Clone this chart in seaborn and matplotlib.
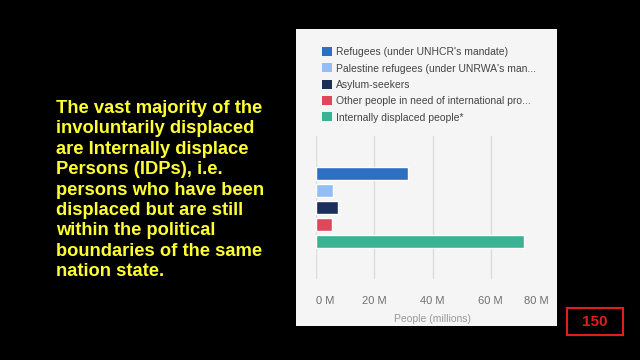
import matplotlib
matplotlib.use("Agg")
import matplotlib.pyplot as plt
import seaborn as sns
import pandas as pd
from matplotlib.patches import Rectangle, Patch

# data (millions of people)
categories = [
    "Refugees (under UNHCR's mandate)",
    "Palestine refugees (under UNRWA's man...",
    "Asylum-seekers",
    "Other people in need of international pro...",
    "Internally displaced people*",
]
people_m = [31.5, 5.7, 7.5, 5.5, 71.5]
colors = ["#2d6fc0", "#92bdf5", "#1b2e5c", "#e3455b", "#3ab394"]
x_ticks = [0, 20, 40, 60, 80]
x_tick_labels = ["0 M", "20 M", "40 M", "60 M", "80 M"]

caption = ("The vast majority of the\n"
           "involuntarily displaced\n"
           "are Internally displace\n"
           "Persons (IDPs), i.e.\n"
           "persons who have been\n"
           "displaced but are still\n"
           "within the political\n"
           "boundaries of the same\n"
           "nation state.")
slide_no = "150"

df = pd.DataFrame({"category": categories, "people": people_m})

sns.set_theme(style="white")
plt.rcParams['font.family'] = ['Liberation Sans', 'DejaVu Sans']

fig = plt.figure(figsize=(6.4, 3.6), dpi=100, facecolor="black")

# light card behind the chart
panel_bg = "#f5f5f5"
fig.patches.append(Rectangle((296 / 640, 1 - 326 / 360), 261 / 640, 297 / 360,
                             transform=fig.transFigure, facecolor=panel_bg,
                             edgecolor="none", zorder=-5))

ax = fig.add_axes([316 / 640, 1 - 279 / 360, 233 / 640, 143 / 360])
ax.set_facecolor(panel_bg)

sns.barplot(data=df, x="people", y="category", hue="category",
            palette=colors, orient="h", width=0.8, legend=False,
            saturation=1, ax=ax, zorder=3)

ax.set_xlim(0, 80)
ax.set_ylim(6.2, -2.2)
ax.set_xticks(x_ticks)
ax.set_xticklabels(x_tick_labels, fontsize=8, color="#707070")
# end labels are kept inside the plot width
ax.get_xticklabels()[0].set_ha("left")
ax.get_xticklabels()[-1].set_ha("right")
ax.set_yticks([])
ax.set_ylabel("")
ax.set_xlabel("People (millions)", fontsize=7.5, color="#999999", labelpad=6)
ax.tick_params(axis="x", length=0, pad=12)
for s in ax.spines.values():
    s.set_visible(False)
ax.grid(axis="x", color="#dcdcdc", linewidth=1, zorder=0)
ax.get_xgridlines()[-1].set_visible(False)

handles = [Patch(facecolor=c, edgecolor="none") for c in colors]
fig.legend(handles, categories, loc="upper left",
           bbox_to_anchor=(318 / 640, 1 - 43 / 360), frameon=False,
           fontsize=7.5, labelcolor="#444444", handlelength=0.95, handleheight=0.95,
           handletextpad=0.4, labelspacing=0.6, borderaxespad=0)

fig.text(56 / 640, 1 - 100 / 360, caption, ha="left", va="top",
         fontsize=13.2, fontweight="bold", color="#ffff33", linespacing=1.26)

fig.patches.append(Rectangle((567 / 640, 1 - 335 / 360), 56 / 640, 27 / 360,
                             transform=fig.transFigure, facecolor="none",
                             edgecolor="#e01e1e", linewidth=1.5))
fig.text(595 / 640, 1 - 322 / 360, slide_no, ha="center", va="center",
         fontsize=11, fontweight="bold", color="#e01e1e")

fig.savefig("out.png", dpi=100, facecolor="black")
